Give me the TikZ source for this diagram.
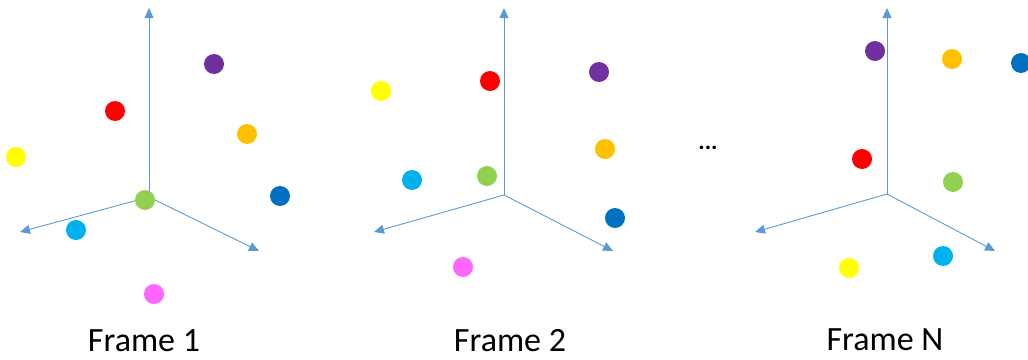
\documentclass[tikz,border=0pt]{standalone}
\usepackage{fontspec}
\setmainfont{Carlito}
\usetikzlibrary{arrows.meta}
\definecolor{axisblue}{HTML}{5B9BD5}
\definecolor{cpurple}{HTML}{7030A0}
\definecolor{cred}{HTML}{FF0000}
\definecolor{corange}{HTML}{FFC000}
\definecolor{cyellow}{HTML}{FFFF00}
\definecolor{cdblue}{HTML}{0070C0}
\definecolor{cgreen}{HTML}{92D050}
\definecolor{ccyan}{HTML}{00B0F0}
\definecolor{cpink}{HTML}{FF66FF}
\tikzset{
  axisline/.style={draw=axisblue, line width=0.9pt, -{Triangle[length=10pt,width=9pt]}},
  dot/.style={circle, fill=#1, minimum size=20pt, inner sep=0pt},
  label/.style={font=\fontsize{34}{38}\selectfont, anchor=base, inner sep=0pt, text depth=0pt},
}
\begin{document}
\begin{tikzpicture}[x=1pt,y=-1pt]
\useasboundingbox (0,0) rectangle (1028,359);
% ---------- Frame 1
\coordinate (o1) at (149,197);
\coordinate (u1) at (149,8);
\coordinate (l1) at (20,232);
\coordinate (r1) at (259,251);
\draw[axisline] (o1) -- (u1);
\draw[axisline] (o1) -- (l1);
\draw[axisline] (o1) -- (r1);
\node[dot=cpurple] (p1) at (214,64) {};
\node[dot=cred] (re1) at (115,111) {};
\node[dot=corange] (or1) at (247,134) {};
\node[dot=cyellow] (y1) at (16,157) {};
\node[dot=cdblue] (db1) at (280,196) {};
\node[dot=cgreen] (g1) at (145,200) {};
\node[dot=ccyan] (c1) at (76,230) {};
\node[dot=cpink] (pk1) at (154,294) {};
\node[label] (t1) at (144,351) {Frame 1};
% ---------- Frame 2
\coordinate (o2) at (504,195);
\coordinate (u2) at (504,8);
\coordinate (l2) at (374,232);
\coordinate (r2) at (613,251);
\draw[axisline] (o2) -- (u2);
\draw[axisline] (o2) -- (l2);
\draw[axisline] (o2) -- (r2);
\node[dot=cyellow] (y2) at (381,91) {};
\node[dot=cred] (re2) at (490,81) {};
\node[dot=cpurple] (p2) at (599,72) {};
\node[dot=corange] (or2) at (605,149) {};
\node[dot=ccyan] (c2) at (412,180) {};
\node[dot=cgreen] (g2) at (487,176) {};
\node[dot=cdblue] (db2) at (615,218) {};
\node[dot=cpink] (pk2) at (463,267) {};
\node[label] (t2) at (510,351) {Frame 2};
% ---------- dots between
\node[font=\fontsize{24}{26}\selectfont\bfseries, inner sep=0pt] (dd) at (708,148) {...};
% ---------- Frame N
\coordinate (o3) at (887,194);
\coordinate (u3) at (887,8);
\coordinate (l3) at (755,232);
\coordinate (r3) at (995,251);
\draw[axisline] (o3) -- (u3);
\draw[axisline] (o3) -- (l3);
\draw[axisline] (o3) -- (r3);
\node[dot=cpurple] (p3) at (875,51) {};
\node[dot=corange] (or3) at (952,59) {};
\node[dot=cdblue] (db3) at (1021,63) {};
\node[dot=cred] (re3) at (862,159) {};
\node[dot=cgreen] (g3) at (953,182) {};
\node[dot=ccyan] (c3) at (943,256) {};
\node[dot=cyellow] (y3) at (849,268) {};
\node[label] (t3) at (885,350) {Frame N};
\end{tikzpicture}
\end{document}
